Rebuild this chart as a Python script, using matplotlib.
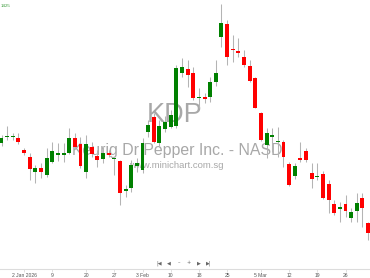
import numpy as np
import matplotlib
matplotlib.use('Agg')
import matplotlib.pyplot as plt

# ── Data (daily OHLC) ───────────────────────────────────────────────────────
OPEN = [28.64, 28.75, 28.76, 28.74, 28.50, 28.36, 28.06, 28.14, 28.00, 28.26,
        28.40, 28.40, 28.44, 28.74, 28.62, 28.06, 28.56, 28.38, 28.32, 28.44,
        28.32, 28.28, 27.68, 27.74, 28.18, 28.10, 28.86, 29.16, 28.64, 28.92,
        28.96, 28.98, 30.04, 30.12, 30.04, 29.54, 29.56, 29.56, 29.86, 30.76,
        31.02, 30.50, 30.48, 30.36, 30.18, 29.94, 29.24, 28.60, 28.76, 28.66,
        28.66, 28.22, 27.98, 28.34, 28.48, 28.04, 27.96, 28.02, 27.82, 27.42,
        27.32, 27.42, 27.14, 27.28, 27.54, 27.04]
HIGH = [28.80, 28.98, 28.84, 28.84, 28.54, 28.44, 28.20, 28.24, 28.54, 28.66,
        28.64, 28.64, 28.94, 28.84, 28.76, 28.80, 28.66, 28.50, 28.56, 28.50,
        28.36, 28.30, 27.80, 28.30, 28.34, 28.74, 29.10, 29.24, 29.10, 29.18,
        29.30, 30.20, 30.34, 30.30, 30.16, 29.74, 29.64, 29.96, 30.30, 31.42,
        31.10, 30.80, 30.74, 30.50, 30.30, 29.96, 29.26, 28.94, 28.94, 28.96,
        28.70, 28.26, 28.24, 28.66, 28.54, 28.24, 28.24, 28.08, 27.90, 27.50,
        27.46, 27.60, 27.34, 27.64, 27.64, 27.06]
LOW = [28.58, 28.70, 28.70, 28.62, 28.40, 27.90, 27.84, 27.94, 27.96, 28.24,
       28.28, 28.26, 28.42, 28.54, 28.14, 27.94, 28.36, 28.16, 28.24, 28.36,
       28.00, 27.40, 27.56, 27.66, 28.06, 28.04, 28.76, 28.64, 28.56, 28.86,
       28.94, 28.94, 29.96, 29.76, 29.50, 29.34, 29.44, 29.46, 29.78, 30.56,
       30.20, 30.26, 30.36, 30.16, 29.86, 29.34, 28.68, 28.34, 28.46, 28.36,
       28.16, 27.78, 27.92, 28.26, 28.26, 27.74, 27.90, 27.52, 27.24, 27.20,
       27.06, 27.16, 27.06, 27.06, 26.96, 26.70]
CLOSE = [28.74, 28.78, 28.78, 28.66, 28.44, 28.12, 28.14, 28.06, 28.34, 28.48,
         28.44, 28.44, 28.74, 28.56, 28.18, 28.62, 28.42, 28.30, 28.44, 28.40,
         28.34, 27.64, 27.72, 28.20, 28.24, 28.64, 29.00, 28.66, 28.98, 29.06,
         29.20, 30.14, 30.16, 30.00, 29.54, 29.56, 29.52, 29.86, 30.04, 31.04,
         30.36, 30.49, 30.44, 30.20, 29.88, 29.34, 28.70, 28.84, 28.80, 28.68,
         28.36, 27.80, 28.18, 28.30, 28.30, 27.92, 27.98, 27.54, 27.50, 27.24,
         27.36, 27.28, 27.26, 27.44, 27.34, 26.84]

TICK_IDX = [4, 9, 15, 20, 25, 30, 35, 40, 46, 51, 56, 61]
TICK_LABELS = ['2 Jan 2026', '9', '20', '27', '3 Feb', '10', '18', '25',
               '5 Mar', '12', '19', '26']

SYMBOL = 'KDP'
COMPANY = 'Keurig Dr Pepper Inc. - NASD'
SITE = 'www.minichart.com.sg'
NAV = ['|◀', '◀', '–', '+', '▶', '▶|']

# ── Style ───────────────────────────────────────────────────────────────────
C_UP = '#008000'
C_DOWN = '#ff0000'
C_WICK = '#b4b4b4'
C_MARK = '#a8a8a8'
C_AXIS = '#dcdcdc'

plt.rcParams.update({
    'font.family': 'sans-serif',
    'font.sans-serif': ['Liberation Sans', 'DejaVu Sans'],
})

W, H = 370, 278
fig = plt.figure(figsize=(W / 100, H / 100), dpi=100)
ax = fig.add_axes([0, 9 / H, 1, 269 / H])

o = np.array(OPEN)
h = np.array(HIGH)
l = np.array(LOW)
c = np.array(CLOSE)
x = np.arange(len(o))
up = c >= o
colors = np.where(up, C_UP, C_DOWN)

# wicks behind bodies
ax.vlines(x, l, h, color=C_WICK, lw=0.75, zorder=2)
body_lo = np.minimum(o, c)
body_h = np.maximum(np.abs(c - o), 0.025)
ax.bar(x, body_h, bottom=body_lo, width=0.7, color=colors, lw=0, zorder=3)

# watermark
ax.text(0.473, 0.572, SYMBOL, transform=ax.transAxes, ha='center', va='center',
        fontsize=19.5, color=C_MARK, zorder=1)
ax.text(0.478, 0.423, COMPANY, transform=ax.transAxes, ha='center',
        va='baseline', fontsize=11.4, color=C_MARK, zorder=1)
ax.text(0.476, 0.375, SITE, transform=ax.transAxes, ha='center',
        va='baseline', fontsize=6.8, color=C_MARK, zorder=1)

# axes cosmetics
ax.set_xlim(-0.27, 65.34)
ax.set_ylim(26.12, 31.5)
for s in ('top', 'right', 'left'):
    ax.spines[s].set_visible(False)
ax.spines['bottom'].set_color(C_AXIS)
ax.spines['bottom'].set_linewidth(0.8)
ax.set_yticks([])
ax.set_xticks(TICK_IDX)
ax.set_xticklabels(TICK_LABELS)
ax.tick_params(axis='x', length=2, width=0.6, color=C_AXIS, pad=1,
               labelsize=3.6, labelcolor='#555555')

# top-left price tag and navigation buttons
fig.text(0.5 / W, 1 - 6 / H, '1425', fontsize=3.2, color='#3a9a3a',
         ha='left', va='center')
for k, sym in enumerate(NAV):
    fig.text((159 + 10 * k) / W, 1 - 263 / H, sym, fontsize=3.6,
             color='#666666', ha='center', va='center',
             family=['DejaVu Sans'])

fig.savefig('out.png', dpi=100)
plt.close(fig)
